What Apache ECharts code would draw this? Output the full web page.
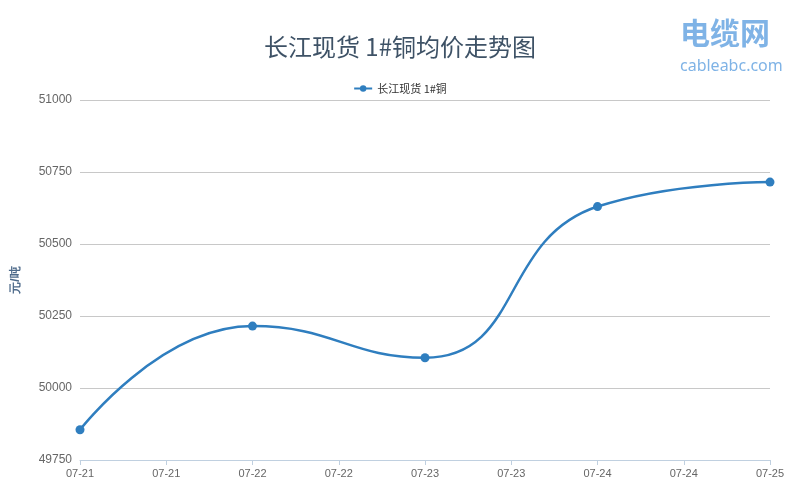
<!DOCTYPE html><html><head><meta charset="utf-8"><script src="https://cdn.jsdelivr.net/npm/echarts@6/dist/echarts.min.js"></script></head><body style="margin:0"><div id="c" style="width:800px;height:500px"></div><script>
const categories=['07-21','07-21','07-22','07-22','07-23','07-23','07-24','07-24','07-25'];
const values=[49855,null,50215,null,50105,null,50630,null,50715];
const yTicks=[49750,50000,50250,50500,50750,51000];
const c=echarts.init(document.getElementById('c'));
c.setOption({
backgroundColor:'#fff',
title:{text:'长江现货 1#铜均价走势图',left:'center',top:30,textStyle:{fontFamily:'Noto Sans CJK SC',fontSize:24,fontWeight:'normal',color:'#3e5266'}},
legend:{top:78,left:'center',itemWidth:18,itemHeight:8,textStyle:{fontSize:11,color:'#333',fontFamily:'Noto Sans CJK SC'},data:['长江现货 1#铜']},
graphic:[{type:'text',left:680,top:18,style:{text:'电缆网',font:'bold 30px "Noto Sans CJK SC"',fill:'#7fb3e6'}},
{type:'text',left:680,top:58,style:{text:'cableabc.com',font:'16px "Noto Sans"',fill:'#7fb3e6'}}],
grid:{left:80,right:30,top:100,bottom:40},
xAxis:{type:'category',data:categories,boundaryGap:false,axisLine:{lineStyle:{color:'#c0d0e0'}},axisTick:{show:true,lineStyle:{color:'#c0d0e0'}},axisLabel:{color:'#666',fontSize:11}},
yAxis:{type:'value',min:49750,max:51000,interval:250,name:'元/吨',nameLocation:'middle',nameGap:58,nameTextStyle:{color:'#4d6a8a',fontWeight:'bold',fontSize:12},axisLabel:{color:'#666',fontSize:12,formatter:v=>yTicks.includes(v)?String(v):''},splitLine:{lineStyle:{color:'#c8c8c8'}},axisLine:{show:false},axisTick:{show:false}},
series:[{name:'长江现货 1#铜',type:'line',data:values,connectNulls:true,smooth:0.5,symbol:'circle',symbolSize:9,lineStyle:{width:2.5,color:'#2f7ebf'},itemStyle:{color:'#2f7ebf'}}]
});
</script></body></html>
